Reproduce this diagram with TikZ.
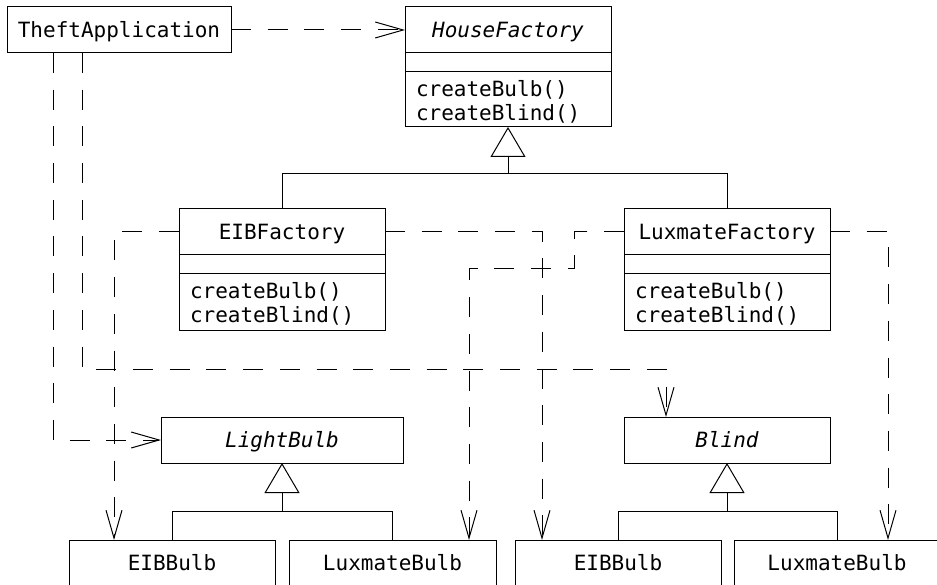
\documentclass[tikz,border=0pt]{standalone}
\usepackage{fontspec}
\newfontfamily\umlfont{DejaVu Sans Mono}
\usetikzlibrary{arrows.meta,calc}
\begin{document}
\begin{tikzpicture}[x=1pt,y=-1pt,line width=1pt,
  box/.style={draw,rectangle,inner sep=0pt,outer sep=0pt,anchor=north west},
  nm/.style={inner sep=0pt,outer sep=0pt,text height=15pt,text depth=0pt,font=\fontsize{21}{25}\selectfont\umlfont},
  op/.style={inner sep=0pt,outer sep=0pt,anchor=base west,font=\fontsize{21}{25}\selectfont\umlfont},
  dep/.style={dash pattern=on 20pt off 16.7pt,-{Straight Barb[length=28pt,width=16pt]}},
  gen/.style={-{Triangle[open,length=30pt,width=35pt,fill=white]}}]
\clip (0,0) rectangle (937,585);
\fill[white] (0,0) rectangle (937,585);

% TheftApplication
\node[box,minimum width=224pt,minimum height=46pt] (ta) at (7,7) {};
\node[nm] (tan) at (ta.center) {TheftApplication};

% HouseFactory
\node[box,minimum width=206pt,minimum height=120pt] (hf) at (405,7) {};
\node[nm] (hfn) at ($(hf.north)+(0,23)$) {\itshape HouseFactory};
\draw ($(hf.north west)+(0,46)$) -- ($(hf.north east)+(0,46)$);
\draw ($(hf.north west)+(0,65)$) -- ($(hf.north east)+(0,65)$);
\node[op] (hf1) at ($(hf.north west)+(11,90)$) {createBulb()};
\node[op] (hf2) at ($(hf.north west)+(11,114)$) {createBlind()};

% EIBFactory
\node[box,minimum width=206pt,minimum height=121pt] (ef) at (179,209) {};
\node[nm] (efn) at ($(ef.north)+(0,23)$) {EIBFactory};
\draw ($(ef.north west)+(0,46)$) -- ($(ef.north east)+(0,46)$);
\draw ($(ef.north west)+(0,65)$) -- ($(ef.north east)+(0,65)$);
\node[op] (ef1) at ($(ef.north west)+(11,90)$) {createBulb()};
\node[op] (ef2) at ($(ef.north west)+(11,114)$) {createBlind()};

% LuxmateFactory
\node[box,minimum width=206pt,minimum height=121pt] (lf) at (624,209) {};
\node[nm] (lfn) at ($(lf.north)+(0,23)$) {LuxmateFactory};
\draw ($(lf.north west)+(0,46)$) -- ($(lf.north east)+(0,46)$);
\draw ($(lf.north west)+(0,65)$) -- ($(lf.north east)+(0,65)$);
\node[op] (lf1) at ($(lf.north west)+(11,90)$) {createBulb()};
\node[op] (lf2) at ($(lf.north west)+(11,114)$) {createBlind()};

% LightBulb, Blind
\node[box,minimum width=242pt,minimum height=46pt] (lb) at (161,417) {};
\node[nm] (lbn) at (lb.center) {\itshape LightBulb};
\node[box,minimum width=206pt,minimum height=46pt] (bl) at (624,417) {};
\node[nm] (bln) at (bl.center) {\itshape Blind};

% bottom classes
\node[box,minimum width=206pt,minimum height=120pt] (eb1) at (69,540) {};
\node[nm] (eb1n) at ($(eb1.north)+(0,23)$) {EIBBulb};
\node[box,minimum width=207pt,minimum height=120pt] (xb1) at (289,540) {};
\node[nm] (xb1n) at ($(xb1.north)+(0,23)$) {LuxmateBulb};
\node[box,minimum width=206pt,minimum height=120pt] (eb2) at (515,540) {};
\node[nm] (eb2n) at ($(eb2.north)+(0,23)$) {EIBBulb};
\node[box,minimum width=206pt,minimum height=120pt] (xb2) at (734,540) {};
\node[nm] (xb2n) at ($(xb2.north)+(0,23)$) {LuxmateBulb};

% generalizations
\coordinate (hfj) at ($(hf.south)+(0,47)$);
\draw[gen] (ef.north) |- (hfj) -- (hf.south);
\draw (lf.north) |- (hfj);
\coordinate (lbj) at ($(lb.south)+(0,48)$);
\draw[gen] (eb1.north) |- (lbj) -- (lb.south);
\draw (xb1.north) |- (lbj);
\coordinate (blj) at ($(bl.south)+(0,48)$);
\draw[gen] (eb2.north) |- (blj) -- (bl.south);
\draw (xb2.north) |- (blj);

% dependencies
\draw[dep] (ta.east) -- (ta.east -| hf.west);
\draw[dep] ($(ta.south west)+(46,0)$) |- (lb.west);
\draw[dep] ($(ta.south west)+(75,0)$) |- ($(bl.north west)+(42,-48)$) -- ($(bl.north west)+(42,0)$);
\draw[dep] ($(ef.north west)+(0,23)$) -| ($(eb1.north west)+(45,0)$);
\draw[dep] ($(ef.north east)+(0,23)$) -| ($(eb2.north west)+(27,0)$);
\draw[dep] ($(lf.north west)+(0,23)$) -- ++(-50,0) -- ++(0,37) -| ($(xb1.north west)+(180,0)$);
\draw[dep] ($(lf.north east)+(0,23)$) -| ($(xb2.north west)+(154,0)$);
\end{tikzpicture}
\end{document}
